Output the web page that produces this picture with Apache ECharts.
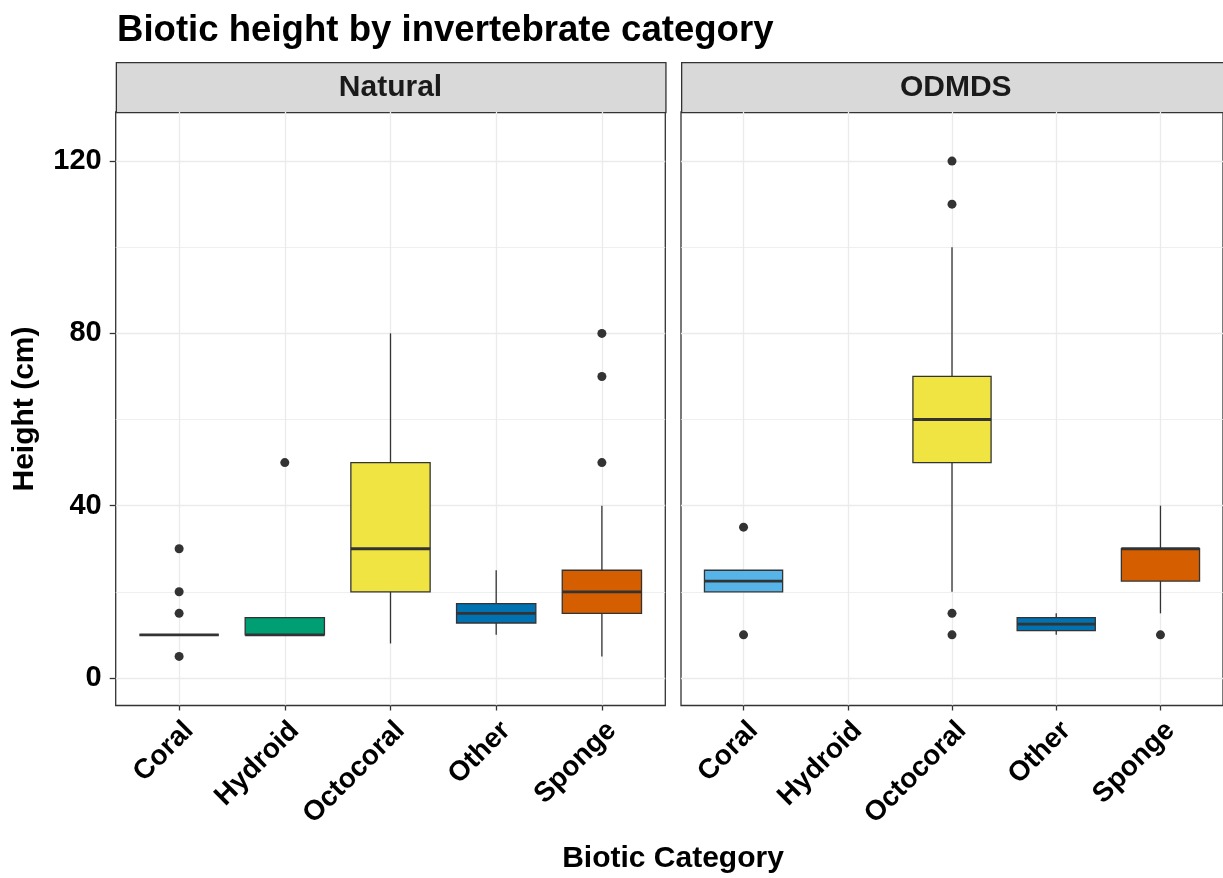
<!DOCTYPE html>
<html>
<head>
<meta charset="utf-8">
<script src="https://cdn.jsdelivr.net/npm/echarts@6/dist/echarts.min.js"></script>
<style>
  html, body { margin: 0; padding: 0; background: #ffffff; }
  #chart { width: 1223px; height: 878px; }
</style>
</head>
<body>
<div id="chart"></div>
<script>
// Invertebrate categories shared by both panels
const categories = ['Coral', 'Hydroid', 'Octocoral', 'Other', 'Sponge'];
const panels = ['Natural', 'ODMDS'];

// Box statistics per category: [lower whisker, Q1, median, Q3, upper whisker]
const naturalStats = [
  [10, 10, 10, 10, 10],
  [10, 10, 10, 14, 14],
  [8, 20, 30, 50, 80],
  [10, 12.75, 15, 17.25, 25],
  [5, 15, 20, 25, 40]
];
const odmdsStats = [
  [20, 20, 22.5, 25, 25],
  null,
  [20, 50, 60, 70, 100],
  [10, 11, 12.5, 14, 15],
  [15, 22.5, 30, 30, 40]
];

// Outlying heights per category
const naturalOutliers = [
  [5, 15, 20, 30],
  [50],
  [],
  [],
  [50, 70, 80]
];
const odmdsOutliers = [
  [10, 35],
  [],
  [10, 15, 110, 120],
  [],
  [10]
];

// Axis breaks
const yMajorTicks = [0, 40, 80, 120];
const yMinorTicks = [20, 60, 100];
const xTicks = [1, 2, 3, 4, 5];

// Fill colour per category
const palette = ['#56B4E9', '#009E73', '#F0E442', '#0072B2', '#D55E00'];

const FONT = '"Liberation Sans", Arial, sans-serif';
const INK = '#333333';
const GRID_LINE = '#EBEBEB';
const BOX_WIDTH = 0.75;

function boxRows(stats) {
  const rows = [];
  stats.forEach((s, i) => {
    if (s) rows.push([i + 1].concat(s));
  });
  return rows;
}

function outlierRows(list) {
  const rows = [];
  list.forEach((vals, i) => vals.forEach(v => rows.push([i + 1, v])));
  return rows;
}

function renderBox(params, api) {
  const x = api.value(0);
  const lo = api.coord([x, api.value(1)]);
  const q1 = api.coord([x, api.value(2)]);
  const md = api.coord([x, api.value(3)]);
  const q3 = api.coord([x, api.value(4)]);
  const hi = api.coord([x, api.value(5)]);
  const half = api.size([BOX_WIDTH, 0])[0] / 2;
  const cx = md[0];
  const line = { stroke: INK, lineWidth: 1.3 };
  return {
    type: 'group',
    children: [
      { type: 'line', shape: { x1: cx, y1: hi[1], x2: cx, y2: q3[1] }, style: line },
      { type: 'line', shape: { x1: cx, y1: q1[1], x2: cx, y2: lo[1] }, style: line },
      {
        type: 'rect',
        shape: { x: cx - half, y: q3[1], width: half * 2, height: q1[1] - q3[1] },
        style: { fill: palette[x - 1], stroke: INK, lineWidth: 1.3 }
      },
      { type: 'line', shape: { x1: cx - half, y1: md[1], x2: cx + half, y2: md[1] }, style: { stroke: INK, lineWidth: 2.8 } }
    ]
  };
}

// Panel geometry
const PANEL_TOP = 112;
const PANEL_H = 593.5;
const PANEL_W = 549.6;
const PANEL_LEFT = [115.7, 681];
const STRIP_TOP = 62;
const STRIP_H = 50;

const grids = PANEL_LEFT.map(l => ({
  left: l, top: PANEL_TOP, width: PANEL_W, height: PANEL_H,
  show: true, borderColor: INK, borderWidth: 1.3, backgroundColor: '#ffffff',
  containLabel: false
}));

const xAxes = [0, 1].map(g => ({
  type: 'value', gridIndex: g, min: 0.4, max: 5.6,
  axisLine: { show: false, onZero: false },
  axisTick: { show: true, customValues: xTicks, length: 5, lineStyle: { color: INK, width: 1.3 } },
  axisLabel: {
    customValues: xTicks, rotate: 45, margin: 11, verticalAlign: 'top',
    fontFamily: FONT, fontSize: 28, fontWeight: 'bold', color: '#000000',
    formatter: v => categories[Math.round(v) - 1] || ''
  },
  splitLine: { show: true, lineStyle: { color: GRID_LINE, width: 1.3 } }
}));

const yAxes = [];
[0, 1].forEach(g => {
  yAxes.push({
    type: 'value', gridIndex: g, min: -6.4, max: 131.4,
    axisLine: { show: false, onZero: false },
    axisTick: { show: g === 0, customValues: yMajorTicks, length: 6, lineStyle: { color: INK, width: 1.3 } },
    axisLabel: {
      show: g === 0, customValues: yMajorTicks, margin: 14,
      fontFamily: FONT, fontSize: 29, fontWeight: 'bold', color: '#000000'
    },
    splitLine: { show: true, lineStyle: { color: GRID_LINE, width: 1.3 } }
  });
  yAxes.push({
    type: 'value', gridIndex: g, min: -6.4, max: 131.4, position: 'right',
    axisLine: { show: false, onZero: false },
    axisTick: { show: false, customValues: yMinorTicks },
    axisLabel: { show: false, customValues: yMinorTicks },
    splitLine: { show: true, lineStyle: { color: GRID_LINE, width: 0.8 } }
  });
});

const statsByPanel = [naturalStats, odmdsStats];
const outliersByPanel = [naturalOutliers, odmdsOutliers];

const series = [];
[0, 1].forEach(g => {
  series.push({
    type: 'custom', name: panels[g] + ' boxes',
    xAxisIndex: g, yAxisIndex: g * 2,
    renderItem: renderBox,
    encode: { x: 0, y: [1, 2, 3, 4, 5] },
    data: boxRows(statsByPanel[g]),
    z: 3
  });
  series.push({
    type: 'scatter', name: panels[g] + ' outliers',
    xAxisIndex: g, yAxisIndex: g * 2,
    symbol: 'circle', symbolSize: 9,
    itemStyle: { color: INK, opacity: 1 },
    data: outlierRows(outliersByPanel[g]),
    z: 4
  });
});

// Facet strips
const strips = [];
[0, 1].forEach(g => {
  strips.push({
    type: 'rect', left: PANEL_LEFT[g], top: STRIP_TOP,
    shape: { width: PANEL_W, height: STRIP_H },
    style: { fill: '#D9D9D9', stroke: INK, lineWidth: 1.3 }
  });
  strips.push({
    type: 'text', x: PANEL_LEFT[g] + PANEL_W / 2, y: STRIP_TOP + STRIP_H / 2 + 1,
    style: {
      text: panels[g], fill: '#1A1A1A', font: 'bold 30px ' + FONT,
      textAlign: 'center', textVerticalAlign: 'middle'
    }
  });
});

const chart = echarts.init(document.getElementById('chart'), null, { renderer: 'canvas' });
chart.setOption({
  backgroundColor: '#ffffff',
  animation: false,
  title: {
    text: 'Biotic height by invertebrate category',
    left: 112, top: 7,
    textStyle: { fontFamily: FONT, fontSize: 36.6, fontWeight: 'bold', color: '#000000' }
  },
  grid: grids,
  xAxis: xAxes,
  yAxis: yAxes,
  series: series,
  graphic: strips.concat([
    {
      type: 'text', x: 673, y: 859,
      style: {
        text: 'Biotic Category', fill: '#000000', font: 'bold 30px ' + FONT,
        textAlign: 'center', textVerticalAlign: 'middle'
      }
    },
    {
      type: 'text', x: 25, y: 409, rotation: Math.PI / 2,
      style: {
        text: 'Height (cm)', fill: '#000000', font: 'bold 30px ' + FONT,
        textAlign: 'center', textVerticalAlign: 'middle'
      }
    }
  ])
});
</script>
</body>
</html>
